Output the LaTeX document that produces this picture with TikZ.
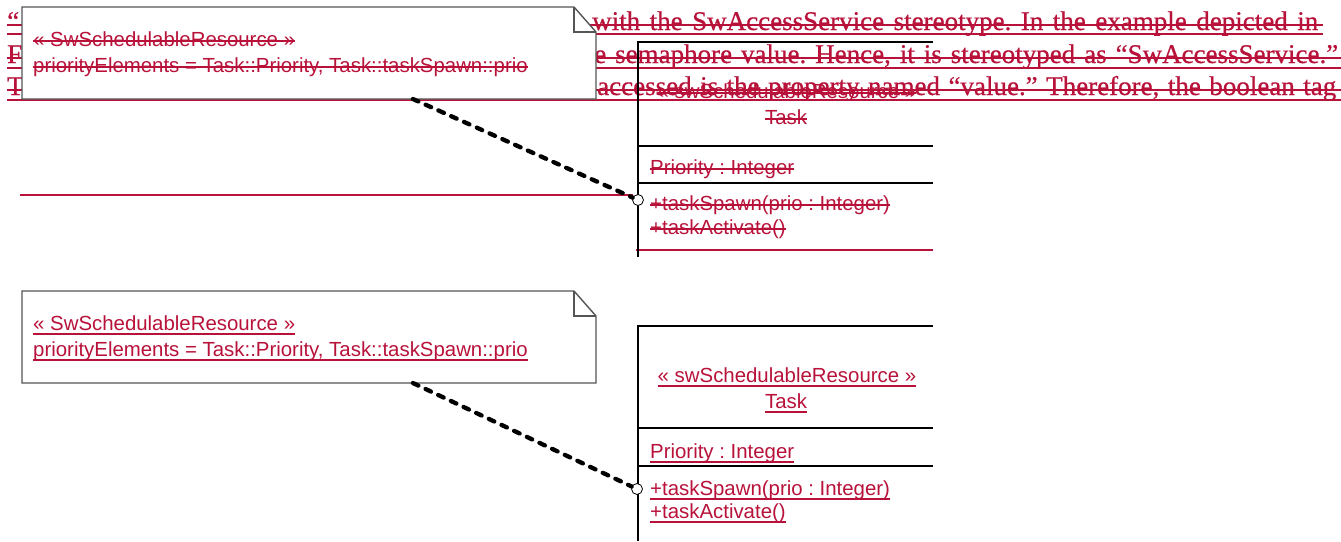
\documentclass[tikz,border=0pt]{standalone}
\usepackage{fontspec}
\setmainfont{Liberation Serif}
\setsansfont{Liberation Sans}
\newfontfamily\parafont[FakeBold=0.6]{Liberation Serif}
\usetikzlibrary{positioning, calc}
\definecolor{changered}{HTML}{B8123A}
\definecolor{noteedge}{HTML}{555555}
\frenchspacing

\begin{document}
\begin{tikzpicture}[
    x=1pt, y=-1pt,
    changeline/.style={draw=changered, line width=2pt},
    paratext/.style={
        font=\parafont\fontsize{27}{27}\selectfont, text=changered,
        inner sep=0pt, anchor=base west,
    },
    umltext/.style={
        font=\sffamily\fontsize{20.4}{24}\selectfont, text=changered,
        inner sep=0pt, anchor=base west,
    },
    deleted/.style={
        umltext,
        append after command={([yshift=5.5pt]\tikzlastnode.base west) edge[changeline] ([yshift=5.5pt]\tikzlastnode.base east)},
    },
    inserted/.style={
        umltext,
        append after command={([yshift=-4pt]\tikzlastnode.base west) edge[changeline] ([yshift=-4pt]\tikzlastnode.base east)},
    },
    classline/.style={draw=black, line width=1.2pt},
    notearea/.style={minimum width=574, minimum height=92, inner sep=0pt, outer sep=0pt, anchor=north west},
    noteline/.style={draw=noteedge, line width=1.4pt},
    connector/.style={draw=black, line width=4.3pt, dash pattern=on 6pt off 8pt, line cap=round},
    port/.style={circle, draw=black, fill=white, line width=0.8pt, minimum size=11pt, inner sep=0pt},
]
\path[use as bounding box, fill=white] (0,0) rectangle (1341,541);

% old paragraph, struck through
\node[paratext] (oldq) at (7,30) {“};
\node[paratext] (oldf) at (7,63) {F};
\node[paratext] (oldt) at (7,95) {T};
\node[paratext] (oldline1) at (592,30) {\makebox[726pt][s]{with the SwAccessService stereotype. In the example depicted in}};
\node[paratext] (oldline2) at (594,63) {\makebox[744pt][s]{e semaphore value. Hence, it is stereotyped as “SwAccessService.”}};
\node[paratext] (oldline3) at (597,95) {\makebox[739pt][s]{accessed is the property named “value.” Therefore, the boolean tag}};
\draw[changeline, line width=2.4pt]
    (7,25) -- (1323,25) (7,34) -- (1323,34)
    (7,58) -- (1341,58) (7,68) -- (1341,68)
    (7,90) -- (1341,90) (7,100) -- (1341,100);
\draw[changeline] (20,195) -- (633,195);
\draw[changeline] (636,250) -- (933,250);

% old class
\draw[classline] (933,42) -- (638,42) -- (638,257);
\draw[classline] (638,146) -- (933,146) (638,183) -- (933,183);
\node[deleted, anchor=base] (oldstereo) at (787,98) {« swSchedulableResource »};
\node[deleted, anchor=base] (oldname) at (786,124) {Task};
\node[deleted] (oldattr) at (650,174) {Priority : Integer};
\node[deleted] (oldspawn) at (650,210) {+taskSpawn(prio : Integer)};
\node[deleted] (oldactivate) at (650,234) {+taskActivate()};

% old note
\node[notearea] (oldnote) at (22,7) {};
\draw[noteline, fill=white] (oldnote.north west) -- ([xshift=-22pt]oldnote.north east)
    -- ([yshift=-25pt]oldnote.north east) -- (oldnote.south east) -- (oldnote.south west) -- cycle;
\draw[noteline] ([xshift=-22pt]oldnote.north east) |- ([yshift=-25pt]oldnote.north east);
\node[deleted] (oldnotest) at ([shift={(11,39)}]oldnote.north west) {« SwSchedulableResource »};
\node[deleted] (oldnoteprio) at ([shift={(0,26)}]oldnotest.base west) {priorityElements = Task::Priority, Task::taskSpawn::prio};

\coordinate (oldfoot) at ($(oldnote.south west)!0.681!(oldnote.south east)$);
\node[port] (oldport) at (638,200) {};
\draw[connector] (oldfoot) -- (oldport);

% new class
\draw[classline] (933,326) -- (638,326) -- (638,541);
\draw[classline] (638,428) -- (933,428) (638,466) -- (933,466);
\node[inserted, anchor=base] (newstereo) at (787,382) {« swSchedulableResource »};
\node[inserted, anchor=base] (newname) at (786,408) {Task};
\node[inserted] (newattr) at (650,458) {Priority : Integer};
\node[inserted] (newspawn) at (650,495) {+taskSpawn(prio : Integer)};
\node[inserted] (newactivate) at (650,518) {+taskActivate()};

% new note
\node[notearea] (newnote) at (22,291) {};
\draw[noteline, fill=white] (newnote.north west) -- ([xshift=-22pt]newnote.north east)
    -- ([yshift=-25pt]newnote.north east) -- (newnote.south east) -- (newnote.south west) -- cycle;
\draw[noteline] ([xshift=-22pt]newnote.north east) |- ([yshift=-25pt]newnote.north east);
\node[inserted] (newnotest) at ([shift={(11,39)}]newnote.north west) {« SwSchedulableResource »};
\node[inserted] (newnoteprio) at ([shift={(0,26)}]newnotest.base west) {priorityElements = Task::Priority, Task::taskSpawn::prio};

\coordinate (newfoot) at ($(newnote.south west)!0.681!(newnote.south east)$);
\node[port] (newport) at (637,489) {};
\draw[connector] (newfoot) -- (newport);

\end{tikzpicture}
\end{document}
